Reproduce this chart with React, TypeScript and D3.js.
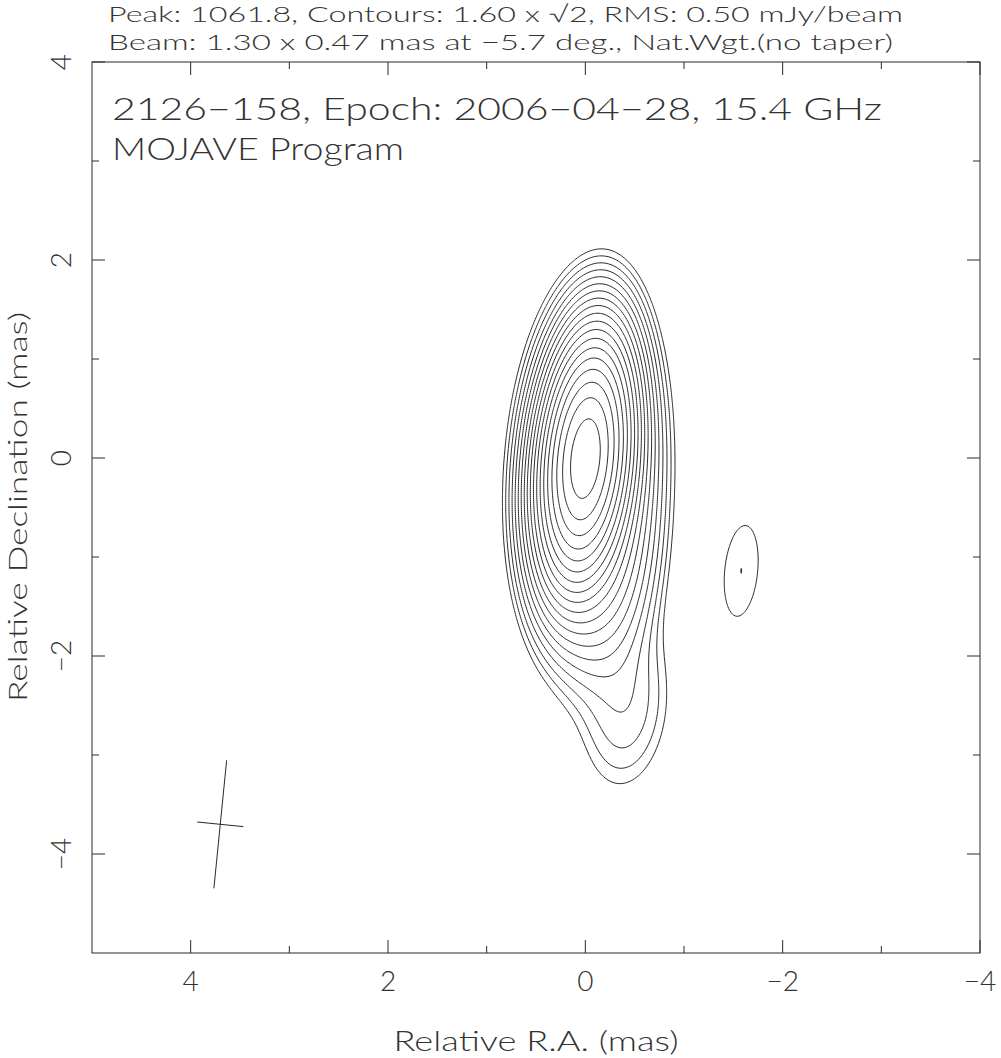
import React, { useMemo } from "react";
import * as d3 from "d3";

// ---------- text ----------
const headerLines = [
  "Peak: 1061.8, Contours: 1.60 x \u221A2, RMS: 0.50 mJy/beam",
  "Beam: 1.30 x 0.47 mas at \u22125.7 deg., Nat.Wgt.(no taper)",
];
const titleLines = ["2126\u2212158, Epoch: 2006\u221204\u221228, 15.4 GHz", "MOJAVE Program"];
const xLabel = "Relative R.A. (mas)";
const yLabel = "Relative Declination (mas)";

// ---------- axes ----------
const xDomain = [5, -4];
const yDomain = [-5, 4];
const xTicks = [4, 3, 2, 1, 0, -1, -2, -3, -4];
const yTicks = [4, 3, 2, 1, 0, -1, -2, -3, -4];
const xTickLabels = [4, 2, 0, -2, -4];
const yTickLabels = [4, 2, 0, -2, -4];

// ---------- image / beam ----------
const peakFlux = 1061.8;
const lowestContour = 1.6;
const contourCount = 19;
const beamMajor = 1.3;
const beamMinor = 0.47;
const beamPA = -5.7;
const beamCenter = [3.7, -3.7];

// Gaussian model components (peak mJy/beam, position mas, intrinsic FWHM mas, PA deg)
const compName = ["core", "halo", "J1", "J2", "C1"];
const compAmp = [1005, 58, 10, 3.9, 2.265];
const compX = [0, -0.04, -0.22, -0.42, -1.58];
const compY = [0, -0.2, -1.25, -2.55, -1.14];
const compMaj = [0, 1.4, 0.4, 0.5, 0];
const compMin = [0, 0.58, 0.0, 0.0, 0];
const compPA = [0, 0, 90, 90, 0];

const W = 1001;
const H = 1058;
const FONT = "Lato, 'Noto Sans', sans-serif";

function cov(maj: number, min: number, paDeg: number) {
  const s1 = maj / 2.35482;
  const s2 = min / 2.35482;
  const t = (paDeg * Math.PI) / 180;
  const ux = Math.sin(t), uy = Math.cos(t);
  const vx = Math.cos(t), vy = -Math.sin(t);
  return {
    a: s1 * s1 * ux * ux + s2 * s2 * vx * vx,
    b: s1 * s1 * ux * uy + s2 * s2 * vx * vy,
    c: s1 * s1 * uy * uy + s2 * s2 * vy * vy,
  };
}

export default function App() {
  const x = d3.scaleLinear().domain(xDomain).range([92, 980]);
  const y = d3.scaleLinear().domain(yDomain).range([953, 62]);

  const paths = useMemo(() => {
    const step = 0.02;
    const gx0 = -2.5, gx1 = 2.5, gy0 = -4.2, gy1 = 3.0;
    const nx = Math.round((gx1 - gx0) / step) + 1;
    const ny = Math.round((gy1 - gy0) / step) + 1;
    const bc = cov(beamMajor, beamMinor, beamPA);
    const comps = compName.map((_, i) => {
      const ic = cov(compMaj[i], compMin[i], compPA[i]);
      const a = bc.a + ic.a, b = bc.b + ic.b, c = bc.c + ic.c;
      const det = a * c - b * b;
      return { amp: compAmp[i], x: compX[i], y: compY[i], ia: c / det, ib: -b / det, ic: a / det };
    });
    const values = new Array(nx * ny);
    for (let j = 0; j < ny; j++) {
      const yy = gy0 + j * step;
      for (let i = 0; i < nx; i++) {
        const xx = gx0 + i * step;
        let v = 0;
        for (const k of comps) {
          const dx = xx - k.x, dy = yy - k.y;
          v += k.amp * Math.exp(-0.5 * (k.ia * dx * dx + 2 * k.ib * dx * dy + k.ic * dy * dy));
        }
        values[j * nx + i] = v;
      }
    }
    const levels = d3.range(contourCount).map((k) => lowestContour * Math.pow(Math.SQRT2, k)).filter((l) => l < peakFlux);
    const cs = d3.contours().size([nx, ny]).thresholds(levels)(values);
    const proj = d3.geoTransform({
      point(px: number, py: number) {
        (this as any).stream.point(x(gx0 + (px - 0.5) * step), y(gy0 + (py - 0.5) * step));
      },
    });
    const gp = d3.geoPath(proj);
    return cs.map((c) => gp(c as any) || "");
  }, []);

  // beam cross
  const t = (beamPA * Math.PI) / 180;
  const ux = Math.sin(t), uy = Math.cos(t);
  const vx = Math.cos(t), vy = -Math.sin(t);
  const bx = beamCenter[0], by = beamCenter[1];

  const stroke = "#2a2a2a";
  const textColor = "#333";

  return (
    <svg width={W} height={H} style={{ position: "absolute", left: 0, top: 0, background: "#fff" }} fontFamily={FONT} fontWeight={300}>
      <rect x={0} y={0} width={W} height={H} fill="#fff" />
      {/* header */}
      <text x={108} y={22} fontSize={22} fill={textColor} textLength={795} lengthAdjust="spacingAndGlyphs">{headerLines[0]}</text>
      <text x={108} y={50} fontSize={22} fill={textColor} textLength={785} lengthAdjust="spacingAndGlyphs">{headerLines[1]}</text>
      {/* frame */}
      <rect x={x(5)} y={y(4)} width={x(-4) - x(5)} height={y(-5) - y(4)} fill="none" stroke={stroke} strokeWidth={1} />
      {xTicks.map((v) => {
        const L = v % 2 === 0 ? 13 : 7;
        return (
          <g key={"xt" + v}>
            <line x1={x(v)} x2={x(v)} y1={y(-5)} y2={y(-5) - L} stroke={stroke} />
            <line x1={x(v)} x2={x(v)} y1={y(4)} y2={y(4) + L} stroke={stroke} />
          </g>
        );
      })}
      {yTicks.map((v) => {
        const L = v % 2 === 0 ? 13 : 7;
        return (
          <g key={"yt" + v}>
            <line x1={x(5)} x2={x(5) + L} y1={y(v)} y2={y(v)} stroke={stroke} />
            <line x1={x(-4)} x2={x(-4) - L} y1={y(v)} y2={y(v)} stroke={stroke} />
          </g>
        );
      })}
      {xTickLabels.map((v) => (
        <text key={"xl" + v} x={x(v)} y={991} fontSize={28} textAnchor="middle" fill={textColor}>
          {v < 0 ? "\u2212" + Math.abs(v) : String(v)}
        </text>
      ))}
      {yTickLabels.map((v) => (
        <text key={"yl" + v} transform={`translate(71,${y(v)}) rotate(-90)`} fontSize={28} textAnchor="middle" fill={textColor}>
          {v < 0 ? "\u2212" + Math.abs(v) : String(v)}
        </text>
      ))}
      <text x={536} y={1051} fontSize={28} textAnchor="middle" fill={textColor} textLength={285} lengthAdjust="spacingAndGlyphs">{xLabel}</text>
      <text transform={`translate(27,507) rotate(-90)`} fontSize={26} textAnchor="middle" fill={textColor} textLength={390} lengthAdjust="spacingAndGlyphs">{yLabel}</text>
      {/* title */}
      <text x={112} y={120} fontSize={32} fill={textColor} textLength={770} lengthAdjust="spacingAndGlyphs">{titleLines[0]}</text>
      <text x={112} y={160} fontSize={32} fill={textColor} textLength={292} lengthAdjust="spacingAndGlyphs">{titleLines[1]}</text>
      {/* contours */}
      <g fill="none" stroke={stroke} strokeWidth={1}>
        {paths.map((d, i) => (
          <path key={i} d={d} />
        ))}
      </g>
      {/* beam */}
      <g stroke={stroke} strokeWidth={1}>
        <line
          x1={x(bx + (ux * beamMajor) / 2)} y1={y(by + (uy * beamMajor) / 2)}
          x2={x(bx - (ux * beamMajor) / 2)} y2={y(by - (uy * beamMajor) / 2)}
        />
        <line
          x1={x(bx + (vx * beamMinor) / 2)} y1={y(by + (vy * beamMinor) / 2)}
          x2={x(bx - (vx * beamMinor) / 2)} y2={y(by - (vy * beamMinor) / 2)}
        />
      </g>
    </svg>
  );
}
